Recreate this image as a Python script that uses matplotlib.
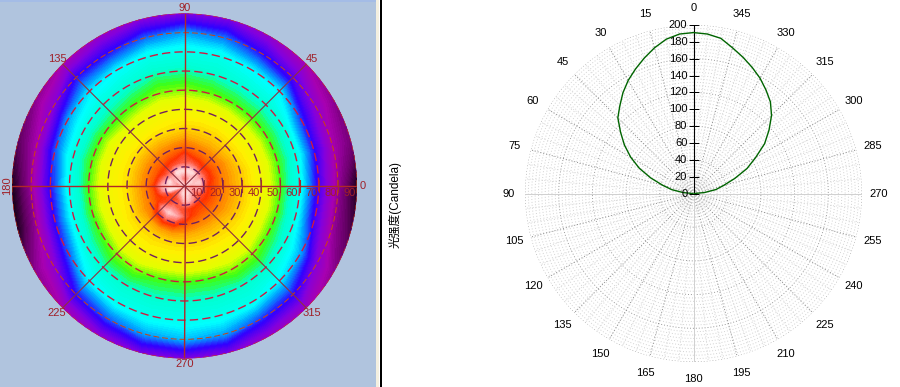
import numpy as np
import matplotlib
matplotlib.use("Agg")
import matplotlib.pyplot as plt
from matplotlib.colors import LinearSegmentedColormap

W, H = 900, 387

# left map: colour level by azimuth (rows) and polar angle (columns)
azimuths = [0, 15, 30, 45, 60, 75, 90, 105, 120, 135, 150, 165,
            180, 195, 210, 225, 240, 255, 270, 285, 300, 315, 330, 345, 360]
radii = [0, 4, 8, 12, 16, 20, 25, 30, 40, 50, 60, 70, 80, 90, 97]
levels = [
    [11.6, 11.0, 11.4, 10.0, 9.6, 9.2, 8.9, 8.6, 8.0, 7.0, 6.0, 3.7, 1.7, 0.0, 0.0],
    [11.6, 11.4, 11.6, 10.2, 9.7, 9.2, 8.9, 8.6, 8.0, 7.0, 6.2, 4.0, 2.0, 1.2, 1.0],
    [11.6, 11.6, 11.2, 10.3, 9.7, 9.3, 8.9, 8.5, 8.0, 7.0, 6.3, 4.3, 2.5, 1.5, 1.5],
    [11.6, 11.7, 11.4, 10.2, 9.6, 9.2, 8.8, 8.5, 7.9, 7.0, 6.4, 5.6, 3.5, 2.0, 2.0],
    [11.6, 11.0, 11.8, 10.4, 9.7, 9.2, 8.8, 8.5, 8.0, 7.0, 6.4, 5.7, 4.0, 2.5, 2.3],
    [11.6, 10.8, 11.8, 10.6, 9.8, 9.3, 8.8, 8.5, 8.0, 7.1, 6.5, 6.0, 4.7, 3.0, 3.0],
    [11.6, 10.6, 11.8, 10.5, 10.2, 9.5, 8.9, 8.5, 8.0, 7.2, 6.6, 6.0, 5.0, 3.0, 3.0],
    [11.6, 10.8, 11.8, 10.4, 9.8, 9.3, 8.8, 8.4, 8.0, 7.2, 6.6, 6.0, 4.6, 2.8, 2.8],
    [11.6, 11.2, 11.8, 10.3, 9.7, 9.2, 8.8, 8.4, 7.9, 7.0, 6.4, 5.7, 4.0, 2.5, 2.3],
    [11.6, 11.6, 11.0, 10.2, 9.6, 9.2, 8.8, 8.4, 7.8, 6.9, 6.3, 5.5, 4.0, 2.0, 2.0],
    [11.6, 11.4, 11.2, 10.2, 9.6, 9.2, 8.8, 8.4, 8.0, 7.0, 6.2, 5.0, 2.7, 1.5, 1.5],
    [11.6, 10.8, 11.8, 10.6, 9.6, 9.2, 8.8, 8.4, 8.0, 7.0, 6.2, 4.5, 2.0, 0.8, 0.6],
    [11.6, 11.2, 11.6, 11.2, 9.8, 9.2, 8.8, 8.4, 8.0, 7.0, 6.0, 4.0, 1.7, 0.0, 0.0],
    [11.6, 11.7, 11.8, 10.6, 9.7, 9.2, 8.8, 8.4, 8.0, 7.0, 6.0, 4.0, 1.7, 0.1, 0.0],
    [11.4, 10.6, 10.2, 10.0, 9.8, 9.3, 8.9, 8.5, 8.0, 7.0, 6.3, 4.5, 2.5, 1.5, 1.5],
    [11.4, 10.6, 10.2, 10.2, 11.0, 10.0, 8.9, 8.5, 8.1, 7.2, 6.5, 5.7, 4.0, 2.0, 2.0],
    [11.4, 11.2, 10.2, 10.6, 11.6, 10.4, 9.0, 8.5, 8.1, 7.2, 6.5, 6.0, 4.5, 2.6, 2.4],
    [11.4, 11.6, 10.6, 10.4, 11.2, 10.2, 9.0, 8.5, 8.0, 7.0, 6.5, 6.0, 5.0, 3.0, 3.0],
    [11.4, 11.8, 11.4, 10.2, 10.4, 9.6, 8.9, 8.5, 8.0, 7.0, 6.5, 6.0, 5.2, 3.0, 3.0],
    [11.4, 11.8, 11.4, 10.0, 9.8, 9.3, 8.8, 8.5, 8.0, 7.0, 6.5, 6.0, 5.0, 3.0, 3.0],
    [11.4, 11.6, 11.0, 9.9, 9.6, 9.2, 8.8, 8.5, 8.0, 7.2, 6.5, 6.0, 4.3, 2.5, 2.5],
    [11.4, 11.4, 10.6, 9.9, 9.6, 9.2, 8.8, 8.5, 8.1, 7.2, 6.5, 5.6, 4.0, 2.3, 2.2],
    [11.6, 11.0, 10.4, 10.0, 9.6, 9.2, 8.9, 8.6, 8.0, 7.0, 6.3, 5.0, 2.7, 1.5, 1.5],
    [11.6, 11.2, 11.0, 10.0, 9.6, 9.2, 8.9, 8.6, 8.0, 7.0, 6.0, 3.7, 1.7, 0.6, 0.4],
    [11.6, 11.0, 11.4, 10.0, 9.6, 9.2, 8.9, 8.6, 8.0, 7.0, 6.0, 3.7, 1.7, 0.0, 0.0],
]
level_stops = [0, 1, 2, 3, 4, 5, 5.7, 6.5, 7.0, 7.5, 8.3, 9, 10, 11, 12]
level_colors = ["#180018", "#680068", "#A800B0", "#8000E0", "#3000FF", "#00A0FF",
                "#00FFFF", "#00FFD0", "#40FF10", "#E0FF00", "#FFF000", "#FF9800",
                "#FF3000", "#FF9090", "#FFF4F4"]
map_ticks = [10, 20, 30, 40, 50, 60, 70, 80, 90]
map_angle_labels = {0: "0", 45: "45", 90: "90", 135: "135", 180: "180",
                    225: "225", 270: "270", 315: "315"}

# right chart: intensity in candela, one value every 5 degrees
angle_deg = list(range(-90, 95, 5))
candela = [1, 13, 27, 37, 52, 70, 85, 103, 117, 131, 142, 150, 158, 165, 172, 179, 187, 190,
           191, 190, 186, 179, 171, 163, 155, 146, 136, 127, 113, 100, 86, 71, 54, 38, 26, 12, 1]
r_ticks = list(range(0, 201, 20))
r_max = 200

fig = plt.figure(figsize=(W / 100, H / 100), dpi=100, facecolor="white")
font = ["Liberation Sans", "DejaVu Sans"]


def polar_axes(cx, cy, r):
    ax = fig.add_axes([(cx - r) / W, 1 - (cy + r) / H, 2 * r / W, 2 * r / H], projection="polar")
    ax.set_xticks([])
    ax.set_yticks([])
    ax.spines["polar"].set_visible(False)
    ax.grid(False)
    return ax


# window background
bg = fig.add_axes([0, 0, 1, 1])
bg.set_xlim(0, W)
bg.set_ylim(H, 0)
bg.axis("off")
bg.axvspan(0, 376, color="#B0C4DE", lw=0)
bg.axhspan(0, 2, xmin=0, xmax=376 / W, color="#A4BCE6", lw=0)
bg.axvspan(376, 379, color="#F4F0E0", lw=0)
bg.axvspan(380, 381.5, color="black", lw=0)

# left map
stops = [s / level_stops[-1] for s in level_stops]
cmap = LinearSegmentedColormap.from_list("lum", list(zip(stops, level_colors)))
ax = polar_axes(184.5, 186, 172.5)
ax.set_facecolor("#A800B0")
tt, rr = np.meshgrid(np.deg2rad(azimuths), radii, indexing="ij")
ax.contourf(tt, rr, np.array(levels), levels=np.linspace(0, 12, 121), cmap=cmap, vmin=0, vmax=12)
ax.set_ylim(0, 90)

th = np.linspace(0, 2 * np.pi, 361)
for r in map_ticks:
    if r <= 40:
        c, lw = "#702060", 1.0
    elif r <= 70:
        c, lw = "#D01840", 1.0
    else:
        c, lw = "#D04010", 0.7
    ax.plot(th, np.full_like(th, r), color=c, lw=lw, ls=(0, (6, 3)))
for a in [0, 90, 180, 270]:
    ax.plot(np.deg2rad([a, a]), [0, 90], color="#B02828", lw=1.0)
for a in [45, 135, 225, 315]:
    ax.plot(np.deg2rad([a, a]), [0, 90], color="#903040", lw=0.8)
ax.plot(np.zeros(len(map_ticks)), map_ticks, ls="", marker="|", ms=9, mew=0.8, color="#A03030")
ax.set_ylim(0, 90)

label_c = "#A02028"
for r in map_ticks:
    ax.annotate(str(r), (0, r), xytext=(-1, -5), textcoords="offset points", ha="right", va="center",
                fontsize=8, color=label_c, family=font, annotation_clip=False)
for a, s in map_angle_labels.items():
    rot = 90 if a == 180 else 0
    ax.text(np.deg2rad(a), 92.8 if a % 90 == 0 else 94, s, ha="center", va="center", fontsize=8,
            color=label_c, family=font, rotation=rot, clip_on=False)

# right chart
ax2 = polar_axes(693.5, 193.5, 168.5)
ax2.set_theta_zero_location("N")
ax2.set_theta_direction(1)
for r in range(4, r_max + 1, 4):
    major = r % 40 == 0
    ax2.plot(th, np.full_like(th, r), color="#999999" if major else "#D2D2D2",
             lw=0.7, ls=(0, (1, 2)))
for a in range(0, 360, 5):
    if a % 90 == 0:
        c, ls = "#D0D0D0", "-"
    elif a % 15 == 0:
        c, ls = "#888888", (0, (1, 2))
    else:
        c, ls = "#D8D8D8", (0, (1, 2))
    ax2.plot(np.deg2rad([a, a]), [0, r_max], color=c, lw=0.7, ls=ls)

ax2.plot([0, 0], [0, r_max], color="black", lw=0.8)
ax2.plot(np.zeros(len(r_ticks)), r_ticks, ls="", marker="_", ms=6.5, mew=0.6, color="black")
ax2.plot(np.deg2rad(angle_deg), candela, color="#006400", lw=1.0)
ax2.set_ylim(0, r_max)

for r in r_ticks:
    ax2.annotate(str(r), (0, r), xytext=(-4.5, 0), textcoords="offset points", ha="right", va="center",
                 fontsize=8, color="black", family=font, annotation_clip=False)
for a in range(0, 360, 15):
    ax2.text(np.deg2rad(a), r_max * 1.1, str(a), ha="center", va="center", fontsize=8,
             color="black", family=font, clip_on=False)

fig.text(395 / W, 1 - 204 / H, "光强度(Candela)", rotation=90, ha="center", va="center",
         fontsize=8.5, color="black", family=["Liberation Sans", "Noto Sans CJK SC"])

fig.savefig("out.png", dpi=100)
